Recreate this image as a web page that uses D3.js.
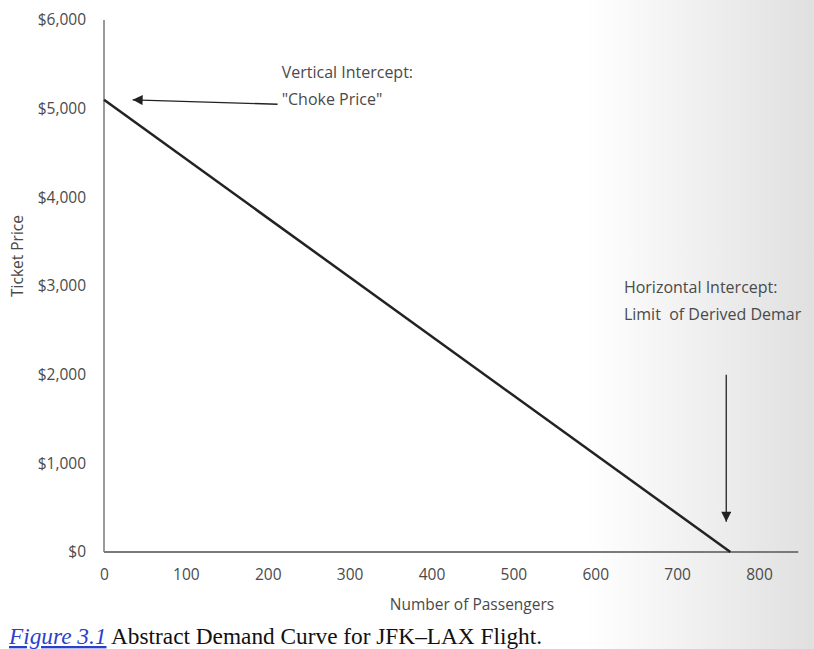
<!DOCTYPE html>
<html><head><meta charset="utf-8">
<script src="https://cdn.jsdelivr.net/npm/d3@7"></script>
<style>body{margin:0;background:#fff}svg{display:block}</style>
</head><body>
<script>
const xTicks = [0,100,200,300,400,500,600,700,800];
const yTicks = [0,1000,2000,3000,4000,5000,6000];
const yTickLabels = ["$0","$1,000","$2,000","$3,000","$4,000","$5,000","$6,000"];
const demand = [{q:0,p:5100},{q:765,p:0}];
const annotations = [
  {lines:["Vertical Intercept:","\"Choke Price\""], q:217, p:5346},
  {lines:["Horizontal Intercept:","Limit  of Derived Demar"], q:635, p:2921}
];
const arrows = [
  {from:{q:212,p:5050}, to:{q:35,p:5100}},
  {from:{q:760,p:2000}, to:{q:760,p:340}}
];

const W=814,H=649;
const svg=d3.select("body").append("svg").attr("width",W).attr("height",H);
const defs=svg.append("defs");
const g1=defs.append("linearGradient").attr("id","bg").attr("x1","0").attr("x2","1").attr("y1","0").attr("y2","0");
g1.append("stop").attr("offset","0").attr("stop-color","#fff");
g1.append("stop").attr("offset","0.72").attr("stop-color","#fff");
g1.append("stop").attr("offset","1").attr("stop-color","#e0e0e0");
svg.append("rect").attr("width",W).attr("height",H).attr("fill","url(#bg)");

defs.append("marker").attr("id","ah").attr("viewBox","0 0 10 10").attr("refX",10).attr("refY",5)
  .attr("markerWidth",13).attr("markerHeight",10).attr("markerUnits","userSpaceOnUse").attr("orient","auto")
  .append("path").attr("d","M0,0L10,5L0,10Z").attr("fill","#222");

const x=d3.scaleLinear().domain([0,800]).range([104,759]);
const y=d3.scaleLinear().domain([0,6000]).range([552,20]);
const font="Open Sans, Lato, sans-serif";
const tc="#4a4a4a";

// x axis
const xa=svg.append("g").attr("transform",`translate(0,${y(0)})`)
  .call(d3.axisBottom(x).tickValues(xTicks).tickSize(0).tickPadding(17).tickFormat(d3.format("d")));
xa.select(".domain").remove();
xa.selectAll("text").attr("font-family",font).attr("font-size",15.5).attr("fill",tc);
svg.append("line").attr("x1",x(0)).attr("x2",x(848)).attr("y1",y(0)).attr("y2",y(0)).attr("stroke","#7a7a7a").attr("stroke-width",2);

// y axis
const ya=svg.append("g").attr("transform",`translate(${x(0)},0)`)
  .call(d3.axisLeft(y).tickValues(yTicks).tickSize(0).tickPadding(18).tickFormat((d,i)=>yTickLabels[i]));
ya.select(".domain").remove();
ya.selectAll("text").attr("font-family",font).attr("font-size",15.5).attr("fill",tc);
svg.append("line").attr("x1",x(0)).attr("x2",x(0)).attr("y1",y(6000)).attr("y2",y(0)).attr("stroke","#7a7a7a").attr("stroke-width",1.5);

// axis titles
svg.append("text").attr("x",472).attr("y",610).attr("text-anchor","middle")
  .attr("font-family",font).attr("font-size",15.5).attr("fill",tc).text("Number of Passengers");
svg.append("text").attr("transform",`translate(23,256) rotate(-90)`).attr("text-anchor","middle")
  .attr("font-family",font).attr("font-size",15.5).attr("fill",tc).text("Ticket Price");

// demand line
svg.append("path").datum(demand).attr("d",d3.line().x(d=>x(d.q)).y(d=>y(d.p)))
  .attr("stroke","#222").attr("stroke-width",2.5).attr("fill","none");

// arrows
svg.selectAll(".arr").data(arrows).enter().append("line")
  .attr("x1",d=>x(d.from.q)).attr("y1",d=>y(d.from.p)).attr("x2",d=>x(d.to.q)).attr("y2",d=>y(d.to.p))
  .attr("stroke","#222").attr("stroke-width",1.3).attr("marker-end","url(#ah)");

// annotations
annotations.forEach(a=>{
  const t=svg.append("text").attr("font-family",font).attr("font-size",16).attr("fill",tc);
  a.lines.forEach((l,i)=>t.append("tspan").attr("x",x(a.q)).attr("y",y(a.p)+i*27).attr("xml:space","preserve").text(l));
});

// caption
const cap=svg.append("text").attr("x",9).attr("y",644).attr("font-family","Liberation Serif, Times New Roman, serif").attr("font-size",23.3).attr("fill","#111");
cap.append("tspan").attr("font-style","italic").attr("fill","#2a3fcf").attr("text-decoration","underline").text("Figure 3.1");
cap.append("tspan").text(" Abstract Demand Curve for JFK\u2013LAX Flight.");
</script>
</body></html>
